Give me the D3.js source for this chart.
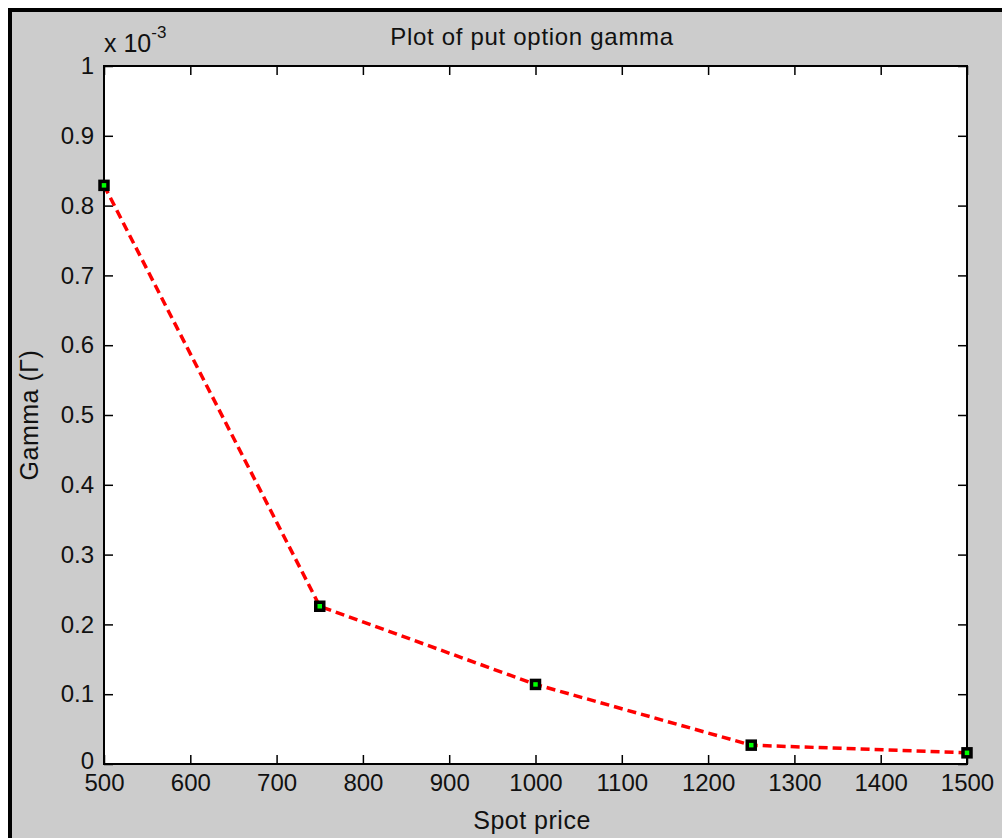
<!DOCTYPE html>
<html>
<head>
<meta charset="utf-8">
<script src="https://cdnjs.cloudflare.com/ajax/libs/d3/7.8.5/d3.min.js"></script>
<style>
  body { margin: 0; background: #fff; }
  svg text { font-family: "Liberation Sans", Arial, sans-serif; fill: #111; }
</style>
</head>
<body>
<div id="chart"></div>
<script>
var width = 1002;
var height = 838;

// data (gamma in units of 1e-3)
var spot = [500, 750, 1000, 1250, 1500];
var gamma = [0.829, 0.226, 0.114, 0.027, 0.016];
var xTicks = [500, 600, 700, 800, 900, 1000, 1100, 1200, 1300, 1400, 1500];
var yTicks = [0, 0.1, 0.2, 0.3, 0.4, 0.5, 0.6, 0.7, 0.8, 0.9, 1];

// plot box edges (window.top is reserved, so prefixed names)
var boxLeft = 104, boxRight = 967, boxTop = 66, boxBottom = 764;

var svg = d3.select("#chart")
    .append("svg")
    .attr("width", width)
    .attr("height", height);

// figure background + window frame
svg.append("rect")
    .attr("x", 0).attr("y", 0)
    .attr("width", width).attr("height", height)
    .attr("fill", "#fff");
svg.append("rect")
    .attr("x", 10).attr("y", 10)
    .attr("width", width).attr("height", height)
    .attr("fill", "#cccccc")
    .attr("stroke", "#000")
    .attr("stroke-width", 4);

var xScale = d3.scaleLinear().domain([500, 1500]).range([boxLeft, boxRight]);
var yScale = d3.scaleLinear().domain([0, 1]).range([boxBottom, boxTop]);

// axes area
svg.append("rect")
    .attr("x", boxLeft).attr("y", boxTop)
    .attr("width", boxRight - boxLeft).attr("height", boxBottom - boxTop)
    .attr("fill", "#fff");

var tickLen = 9;

var xAxis = d3.axisBottom(xScale).tickValues(xTicks).tickSizeInner(-tickLen).tickSizeOuter(0).tickPadding(10)
    .tickFormat(d3.format("d"));
var xAxisTop = d3.axisTop(xScale).tickValues(xTicks).tickSizeInner(-tickLen).tickSizeOuter(0).tickFormat("");
var yAxis = d3.axisLeft(yScale).tickValues(yTicks).tickSizeInner(-tickLen).tickSizeOuter(0).tickPadding(10)
    .tickFormat(function(d) { return d === 0 || d === 1 ? d : d3.format(".1f")(d); });
var yAxisRight = d3.axisRight(yScale).tickValues(yTicks).tickSizeInner(-tickLen).tickSizeOuter(0).tickFormat("");

function styleAxis(g) {
    g.select(".domain").remove();
    g.selectAll(".tick line").attr("stroke", "#000").attr("stroke-width", 1.5);
    g.selectAll(".tick text")
        .style("font-family", "'Liberation Sans', Arial, sans-serif")
        .style("font-size", "24px")
        .attr("fill", "#111");
}

svg.append("g").attr("transform", "translate(0," + boxBottom + ")").call(xAxis).call(styleAxis);
svg.append("g").attr("transform", "translate(0," + boxTop + ")").call(xAxisTop).call(styleAxis);
svg.append("g").attr("transform", "translate(" + boxLeft + ",0)").call(yAxis).call(styleAxis);
svg.append("g").attr("transform", "translate(" + boxRight + ",0)").call(yAxisRight).call(styleAxis);

// lift the "0" label a little so it clears the "500" below it
svg.selectAll("g .tick text").filter(function(d) { return d === 0; }).attr("dy", "0.2em");

// box
svg.append("rect")
    .attr("x", boxLeft).attr("y", boxTop)
    .attr("width", boxRight - boxLeft).attr("height", boxBottom - boxTop)
    .attr("fill", "none")
    .attr("stroke", "#000")
    .attr("stroke-width", 2);

// the curve
var line = d3.line()
    .x(function(d, i) { return xScale(spot[i]); })
    .y(function(d) { return yScale(d); });

svg.append("path")
    .datum(gamma)
    .attr("d", line)
    .attr("fill", "none")
    .attr("stroke", "#ff0000")
    .attr("stroke-width", 3.5)
    .attr("stroke-dasharray", "9,5");

// markers
svg.selectAll(".pt")
    .data(gamma)
    .enter()
    .append("rect")
    .attr("class", "pt")
    .attr("x", function(d, i) { return xScale(spot[i]) - 4; })
    .attr("y", function(d) { return yScale(d) - 4; })
    .attr("width", 8)
    .attr("height", 8)
    .attr("fill", "#00ff00")
    .attr("stroke", "#000")
    .attr("stroke-width", 3.5);

// exponent label
var expo = svg.append("text")
    .attr("x", 104)
    .attr("y", 52)
    .style("font-size", "25px");
expo.append("tspan").text("x 10");
expo.append("tspan").attr("dy", -14).style("font-size", "17px").text("-3");

// title + labels
svg.append("text")
    .attr("x", 532)
    .attr("y", 45)
    .attr("text-anchor", "middle")
    .style("font-size", "24px")
    .style("letter-spacing", "0.7px")
    .text("Plot of put option gamma");

svg.append("text")
    .attr("x", 532)
    .attr("y", 829)
    .attr("text-anchor", "middle")
    .style("font-size", "25px")
    .style("letter-spacing", "0.5px")
    .text("Spot price");

svg.append("text")
    .attr("transform", "translate(38," + ((boxTop + boxBottom) / 2) + ") rotate(-90)")
    .attr("text-anchor", "middle")
    .style("font-size", "25px")
    .style("letter-spacing", "0.5px")
    .text("Gamma (\u0393)");
</script>
</body>
</html>
